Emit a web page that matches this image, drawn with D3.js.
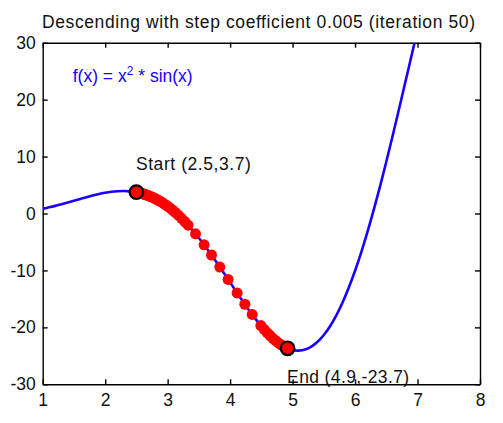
<!DOCTYPE html>
<html><head><meta charset="utf-8">
<script src="https://cdn.jsdelivr.net/npm/d3@7"></script>
<style>
body{margin:0;background:#fff}
text{font-family:"Liberation Sans",Arial,Helvetica,sans-serif}
</style>
</head><body>
<svg id="chart" width="503" height="423"></svg>
<script>
// ---- data ----
const curveX = [1.0,1.1,1.2,1.3,1.4,1.5,1.6,1.7,1.8,1.9,2.0,2.1,2.2,2.3,2.4,2.5,2.6,2.7,2.8,2.9,3.0,3.1,3.2,3.3,3.4,3.5,3.6,3.7,3.8,3.9,4.0,4.1,4.2,4.3,4.4,4.5,4.6,4.7,4.8,4.9,5.0,5.1,5.2,5.3,5.4,5.5,5.6,5.7,5.8,5.9,6.0,6.1,6.2,6.3,6.4,6.5,6.6,6.7,6.8,6.9,7.0,7.1];
const curveY = [0.84,1.08,1.34,1.63,1.93,2.24,2.56,2.87,3.16,3.42,3.64,3.81,3.91,3.94,3.89,3.74,3.48,3.12,2.63,2.01,1.27,0.40,-0.60,-1.72,-2.95,-4.30,-5.74,-7.25,-8.84,-10.46,-12.11,-13.76,-15.37,-16.94,-18.42,-19.80,-21.03,-22.09,-22.95,-23.59,-23.97,-24.08,-23.89,-23.38,-22.53,-21.34,-19.80,-17.89,-15.63,-13.01,-10.06,-6.78,-3.19,0.67,4.77,9.09,13.57,18.17,22.85,27.54,32.19,36.75];

const stepX = [2.500,2.510,2.521,2.532,2.544,2.556,2.569,2.583,2.598,2.613,2.630,2.647,2.665,2.685,2.705,2.727,2.750,2.774,2.800,2.828,2.857,2.889,2.922,2.957,2.995,3.035,3.077,3.122,3.170,3.222,3.276,3.327,3.446,3.584,3.702,3.835,3.968,4.112,4.236,4.353,4.492,4.545,4.595,4.640,4.685,4.725,4.765,4.800,4.835,4.865,4.890,4.905,4.915,4.920];
const stepY = [3.74,3.71,3.69,3.66,3.63,3.60,3.56,3.53,3.49,3.44,3.37,3.31,3.24,3.17,3.09,2.98,2.87,2.75,2.63,2.45,2.28,2.08,1.85,1.59,1.31,0.97,0.60,0.18,-0.30,-0.84,-1.45,-2.05,-3.57,-5.51,-7.29,-9.40,-11.58,-13.95,-15.94,-17.73,-19.69,-20.35,-20.96,-21.45,-21.93,-22.30,-22.65,-22.95,-23.17,-23.37,-23.52,-23.61,-23.65,-23.68];

const xTicks = [1,2,3,4,5,6,7,8];
const yTicks = [-30,-20,-10,0,10,20,30];
const titleText = "Descending with step coefficient 0.005 (iteration 50)";
const startLabel = "Start (2.5,3.7)";
const endLabel = "End (4.9,-23.7)";

// ---- layout ----
const L = 42.7, R = 480, T = 42.7, B = 384.3;
const svg = d3.select("#chart");
svg.append("rect").attr("width",503).attr("height",423).attr("fill","#fff");

const x = d3.scaleLinear().domain([1,8]).range([L,R]);
const y = d3.scaleLinear().domain([-30,30]).range([B,T]);

svg.append("defs").append("clipPath").attr("id","clip")
  .append("rect").attr("x",L).attr("y",T).attr("width",R-L).attr("height",B-T);

const FS = 17.5;
const fmt = d => String(d);
function styleAxis(g, labels){
  g.selectAll(".domain").attr("stroke","#000").attr("stroke-width",1.4);
  g.selectAll(".tick line").attr("stroke","#000").attr("stroke-width",1.4);
  g.selectAll(".tick text").attr("fill","#111").style("font-size",FS+"px")
    .style("font-family","'Liberation Sans',Arial,sans-serif");
  if(!labels) g.selectAll(".tick text").remove();
}

svg.append("g").attr("transform",`translate(0,${B})`)
  .call(d3.axisBottom(x).tickValues(xTicks).tickSize(-5).tickSizeOuter(0).tickPadding(9).tickFormat(fmt))
  .call(g=>styleAxis(g,true));
svg.append("g").attr("transform",`translate(0,${T})`)
  .call(d3.axisTop(x).tickValues(xTicks).tickSize(-5).tickSizeOuter(0))
  .call(g=>styleAxis(g,false));
svg.append("g").attr("transform",`translate(${L},0)`)
  .call(d3.axisLeft(y).tickValues(yTicks).tickSize(-5).tickSizeOuter(0).tickPadding(7).tickFormat(fmt))
  .call(g=>styleAxis(g,true));
svg.append("g").attr("transform",`translate(${R},0)`)
  .call(d3.axisRight(y).tickValues(yTicks).tickSize(-5).tickSizeOuter(0))
  .call(g=>styleAxis(g,false));

// ---- function curve ----
const curveData = curveX.map((v,i)=>[v,curveY[i]]);
svg.append("path").datum(curveData)
  .attr("clip-path","url(#clip)")
  .attr("fill","none").attr("stroke","#1a00ff").attr("stroke-width",2.6)
  .attr("d", d3.line().x(d=>x(d[0])).y(d=>y(d[1])).curve(d3.curveCatmullRom));

// ---- descent steps ----
const steps = stepX.map((v,i)=>[v,stepY[i]]);
svg.append("g").selectAll("circle").data(steps).join("circle")
  .attr("cx",d=>x(d[0])).attr("cy",d=>y(d[1])).attr("r",5.5).attr("fill","#ff0000");

// start & end markers
const ends = [steps[0], steps[steps.length-1]];
svg.append("g").selectAll("circle").data(ends).join("circle")
  .attr("cx",d=>x(d[0])).attr("cy",d=>y(d[1])).attr("r",6.8)
  .attr("fill","#ff0000").attr("stroke","#000").attr("stroke-width",2.2);

// ---- texts ----
svg.append("text").attr("x",(42+475)/2).attr("y",28).attr("text-anchor","middle")
  .attr("textLength",433).attr("lengthAdjust","spacing")
  .style("font-size",FS+"px").attr("fill","#111").text(titleText);

const fx = svg.append("text").attr("x",72.7).attr("y",81.7).style("font-size",FS+"px").attr("fill","#1a00ff");
fx.append("tspan").text("f(x) = x");
fx.append("tspan").attr("dy",-7).style("font-size","12px").text("2");
fx.append("tspan").attr("dy",7).text(" * sin(x)");

svg.append("text").attr("x",x(steps[0][0])-0.5).attr("y",169.5)
  .attr("textLength",115).attr("lengthAdjust","spacing")
  .style("font-size",FS+"px").attr("fill","#111").text(startLabel);
svg.append("text").attr("x",x(steps[steps.length-1][0])-0.5).attr("y",382.5)
  .attr("textLength",122).attr("lengthAdjust","spacing")
  .style("font-size",FS+"px").attr("fill","#111").text(endLabel);
</script>
</body></html>
